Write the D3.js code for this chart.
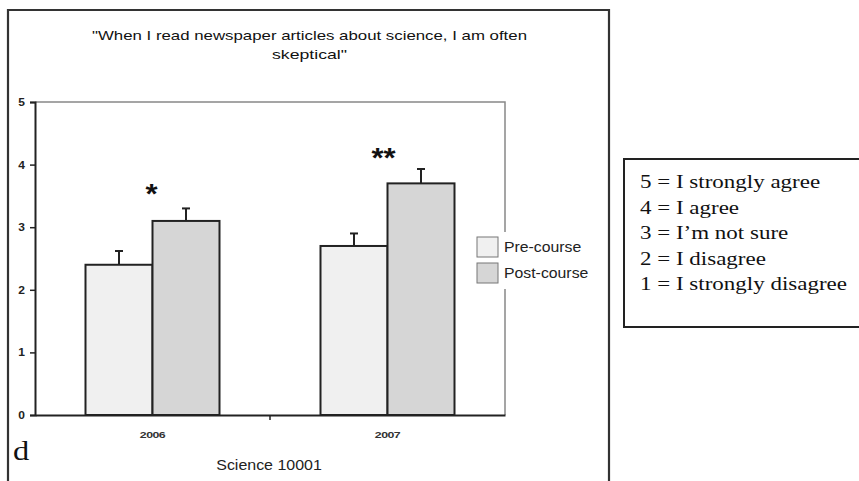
<!DOCTYPE html>
<html><head><meta charset="utf-8">
<script src="https://cdn.jsdelivr.net/npm/d3@7"></script>
<style>body{margin:0;background:#fff}svg{display:block}</style>
</head><body>
<svg id="c" width="859" height="481"></svg>
<script>
const categories = ["2006", "2007"];
const seriesNames = ["Pre-course", "Post-course"];
const preValues = [2.4, 2.7];
const postValues = [3.1, 3.7];
const preErrors = [0.22, 0.2];
const postErrors = [0.2, 0.23];
const significance = ["*", "**"];
const yTicks = [0, 1, 2, 3, 4, 5];
const scaleLines = ["5 = I strongly agree", "4 = I agree", "3 = I\u2019m not sure", "2 = I disagree", "1 = I strongly disagree"];
const titleLines = ["\"When I read newspaper articles about science, I am often", "skeptical\""];
const xTitle = "Science 10001";
const panelLabel = "d";
const colors = ["#f0f0f0", "#d6d6d6"];

const svg = d3.select("#c");
const sans = "Liberation Sans, Arial, sans-serif";
const serif = "Liberation Serif, Times New Roman, serif";
const SX = 1.2; // horizontal stretch of the original figure

function stext(parent, x, y, txt, opts) {
  const t = parent.append("text")
    .attr("transform", `translate(${x},${y}) scale(${opts.sx || SX},1)`)
    .attr("text-anchor", opts.anchor || "start")
    .attr("font-family", opts.family || sans)
    .attr("font-size", opts.size || 12)
    .attr("font-weight", opts.weight || "normal")
    .attr("letter-spacing", opts.ls || 0)
    .attr("fill", opts.fill || "#1a1a1a")
    .text(txt);
  return t;
}

// outer frame
svg.append("path").attr("d", "M8,490 V10 H609 V490").attr("fill", "none").attr("stroke", "#333").attr("stroke-width", 2.2);

const pL = 35, pR = 505, pT = 102, pB = 415;
const x0 = d3.scaleBand().domain(categories).range([pL, pR]);
const x1 = d3.scaleBand().domain(seriesNames).range([0, 134]);
const y = d3.scaleLinear().domain([0, 5]).range([pB, pT]);

// plot border (gray) with gap for legend
svg.append("path").attr("d", `M${pL},${pT} H${pR} V${232} M${pR},${289} V${pB}`)
  .attr("fill", "none").attr("stroke", "#888").attr("stroke-width", 1.5);

// title
svg.append("text").attr("x", 92).attr("y", 40)
  .attr("font-family", sans).attr("font-size", 13.5).attr("fill", "#111")
  .attr("textLength", 435).attr("lengthAdjust", "spacingAndGlyphs").text(titleLines[0]);
svg.append("text").attr("x", 272).attr("y", 59)
  .attr("font-family", sans).attr("font-size", 13.5).attr("fill", "#111")
  .attr("textLength", 75).attr("lengthAdjust", "spacingAndGlyphs").text(titleLines[1]);

// bars
const groups = svg.append("g").selectAll("g").data(categories).join("g")
  .attr("transform", d => `translate(${x0(d) + x0.bandwidth() / 2 - 67},0)`);
groups.each(function (c, i) {
  const g = d3.select(this);
  const vals = [preValues[i], postValues[i]];
  const errs = [preErrors[i], postErrors[i]];
  seriesNames.forEach((s, j) => {
    const cx = x1(s) + x1.bandwidth() / 2;
    g.append("line").attr("x1", cx).attr("x2", cx).attr("y1", y(vals[j])).attr("y2", y(vals[j] + errs[j]))
      .attr("stroke", "#222").attr("stroke-width", 2);
    g.append("line").attr("x1", cx - 4).attr("x2", cx + 4).attr("y1", y(vals[j] + errs[j])).attr("y2", y(vals[j] + errs[j]))
      .attr("stroke", "#222").attr("stroke-width", 2);
    g.append("rect").attr("x", x1(s)).attr("width", x1.bandwidth()).attr("y", y(vals[j]))
      .attr("height", y(0) - y(vals[j])).attr("fill", colors[j]).attr("stroke", "#222").attr("stroke-width", 2);
  });
  // significance stars, centred over the gap between the bars
  const starCenterY = y(vals[1] + errs[1]) - (i ? 17 : 20);
  stext(g, i ? 63 : 66, starCenterY + 15, significance[i], { anchor: "middle", size: 27, weight: "bold", fill: "#111", sx: 1.15 });
});

// y axis
const yAxis = svg.append("g").attr("transform", `translate(${pL},0)`)
  .call(d3.axisLeft(y).tickValues(yTicks).tickSize(5).tickPadding(6).tickFormat(""));
yAxis.select(".domain").attr("stroke", "#222").attr("stroke-width", 2);
yAxis.selectAll(".tick line").attr("stroke", "#222").attr("stroke-width", 1.5);
yAxis.selectAll(".tick").each(function (d) {
  stext(d3.select(this), -10, 3.5, d3.format("d")(d), { anchor: "end", size: 10, weight: "bold", fill: "#222", sx: 1.2 });
});

// x axis
const xAxis = svg.append("g").attr("transform", `translate(0,${pB})`)
  .call(d3.axisBottom(x0).tickSize(0).tickFormat(""));
xAxis.select(".domain").attr("stroke", "#222").attr("stroke-width", 2);
xAxis.selectAll(".tick").each(function (d) {
  stext(d3.select(this), 0, 23, d, { anchor: "middle", size: 9.5, weight: "bold", fill: "#333", sx: 1.3, ls: -0.4 });
});
svg.append("line").attr("x1", x0("2007")).attr("x2", x0("2007")).attr("y1", pB).attr("y2", pB + 5)
  .attr("stroke", "#222").attr("stroke-width", 1.5);

stext(svg, 269, 470, xTitle, { anchor: "middle", size: 14, fill: "#222", sx: 1.14 });
stext(svg, 13, 460, panelLabel, { family: serif, size: 27, fill: "#111", sx: 1.2 });

// legend
const leg = svg.append("g").attr("transform", "translate(477,237)");
seriesNames.forEach((s, j) => {
  leg.append("rect").attr("x", 0).attr("y", j * 26).attr("width", 21).attr("height", 20)
    .attr("fill", colors[j]).attr("stroke", "#777").attr("stroke-width", 1);
  stext(leg, 27, j * 26 + 15, s, { size: 14, fill: "#222", sx: 1.13 });
});

// scale box
svg.append("rect").attr("x", 624).attr("y", 159).attr("width", 260).attr("height", 168)
  .attr("fill", "#fff").attr("stroke", "#222").attr("stroke-width", 2);
const sg = svg.append("g");
scaleLines.forEach((d, i) => {
  stext(sg, 640, 188 + i * 25.5, d, { family: serif, size: 19, fill: "#111", sx: 1.21 });
});
</script>
</body></html>
